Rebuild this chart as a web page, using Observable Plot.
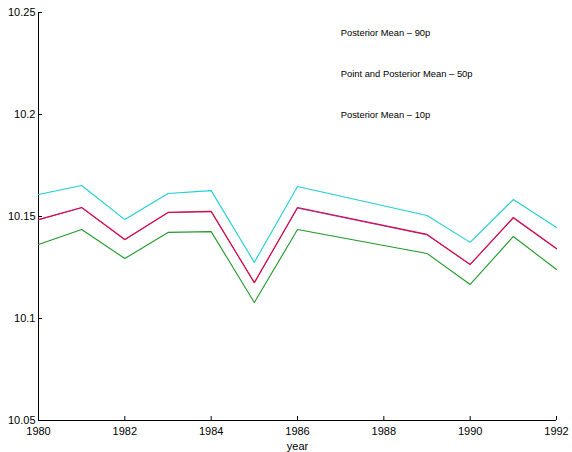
<!DOCTYPE html>
<html>
<head>
<meta charset="utf-8">
<script src="https://cdn.jsdelivr.net/npm/d3@7"></script>
<script src="https://cdn.jsdelivr.net/npm/@observablehq/plot@0.6"></script>
<style>
  html, body { margin: 0; padding: 0; background: #fff; }
  #chart svg { display: block; }
</style>
</head>
<body>
<div id="chart"></div>
<script>
const years = [1980, 1981, 1982, 1983, 1984, 1985, 1986, 1989, 1990, 1991, 1992];
const p90   = [10.1608, 10.1652, 10.1485, 10.1613, 10.1627, 10.1275, 10.1647, 10.1505, 10.1373, 10.1583, 10.1446];
const p50   = [10.1485, 10.1544, 10.1387, 10.1520, 10.1525, 10.1176, 10.1544, 10.1412, 10.1265, 10.1495, 10.1343];
const point = [10.1484, 10.1543, 10.1386, 10.1519, 10.1524, 10.1175, 10.1541, 10.1410, 10.1264, 10.1492, 10.1341];
const p10   = [10.1363, 10.1436, 10.1294, 10.1422, 10.1426, 10.1078, 10.1436, 10.1319, 10.1167, 10.1402, 10.1240];

const xTicks = [1980, 1982, 1984, 1986, 1988, 1990, 1992];
const yTicks = [10.05, 10.1, 10.15, 10.2, 10.25];
const yTickLabels = ["10.05", "10.1", "10.15", "10.2", "10.25"];
const xDomain = [1980, 1992];
const yDomain = [10.05, 10.25];

const legendLabels = ["Posterior Mean \u2013 90p", "Point and Posterior Mean \u2013 50p", "Posterior Mean \u2013 10p"];
const legendX = [1987, 1987, 1987];
const legendY = [10.24, 10.22, 10.20];

const toRows = (vals) => years.map((y, i) => ({year: y, value: vals[i]}));
const legendRows = legendLabels.map((t, i) => ({text: t, x: legendX[i], y: legendY[i]}));

const chart = Plot.plot({
  width: 572,
  height: 452,
  marginLeft: 38,
  marginRight: 16,
  marginTop: 12,
  marginBottom: 32,
  style: {fontFamily: "'Liberation Sans', Arial, Helvetica, sans-serif", fontSize: "11px", color: "#000", background: "#fff"},
  x: {domain: xDomain},
  y: {domain: yDomain},
  marks: [
    Plot.axisY({ticks: yTicks, tickSize: -4, tickPadding: 7, tickFormat: (d) => yTickLabels[yTicks.indexOf(d)], label: null, fontSize: 11, stroke: "#000"}),
    Plot.axisX({ticks: xTicks, tickSize: -4, tickPadding: 11, tickFormat: (d) => String(d), label: "year", labelAnchor: "center", labelOffset: 29, labelArrow: "none", fontSize: 11, stroke: "#000"}),
    Plot.ruleX([xDomain[0]], {stroke: "#000", strokeWidth: 1}),
    Plot.ruleY([yDomain[0]], {stroke: "#000", strokeWidth: 1}),
    Plot.line(toRows(p90), {x: "year", y: "value", stroke: "#1ecfd4", strokeWidth: 1.1}),
    Plot.line(toRows(point), {x: "year", y: "value", stroke: "#4030e0", strokeWidth: 0.8}),
    Plot.line(toRows(p50), {x: "year", y: "value", stroke: "#e2083c", strokeWidth: 1.2}),
    Plot.line(toRows(p10), {x: "year", y: "value", stroke: "#22992a", strokeWidth: 1.1}),
    Plot.text(legendRows, {x: "x", y: "y", text: "text", textAnchor: "start", lineAnchor: "middle", fontSize: 9.4, fill: "#000"})
  ]
});
document.getElementById("chart").appendChild(chart);
</script>
</body>
</html>
